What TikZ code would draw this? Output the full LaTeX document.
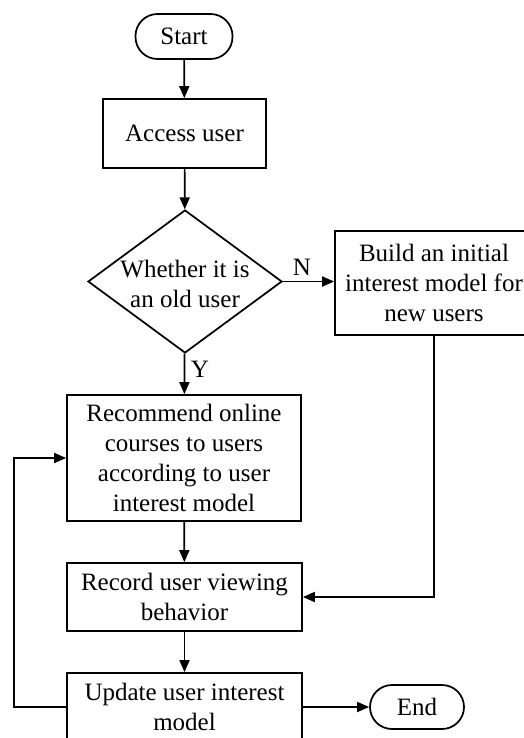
\documentclass[tikz,border=0pt]{standalone}
\usepackage{fontspec}
\setmainfont{Liberation Serif}
\usetikzlibrary{shapes.geometric,arrows.meta}
\begin{document}
\begin{tikzpicture}[x=0.75pt,y=-0.75pt,
  font=\fontsize{18.75}{22.5}\selectfont,
  every node/.style={inner sep=0pt},
  stepbox/.style={draw,line width=1.3pt,align=center,minimum width=#1},
  terminal/.style={draw,line width=1.3pt,rounded corners=16.5pt,minimum height=33pt,minimum width=#1},
  flow/.style={line width=1.3pt,-{Triangle[length=9pt,width=7.5pt]}},
  plain/.style={line width=1.3pt}]
\useasboundingbox (0,0) rectangle (524,738);
\clip (0,0) rectangle (524,738);

% nodes
\node[terminal=72.75pt,minimum height=33.75pt] (start) at (184,36.5) {Start};
\node[stepbox=122.25pt,minimum height=51.75pt] (access) at (184.5,133.5) {Access user};
\node[draw,line width=1.3pt,diamond,minimum width=145.5pt,minimum height=107.25pt] (decide) at (185,281.5) {};
\node[align=center] (decidetext) at (185,284) {Whether it is\\an old user};
\node[stepbox=148.5pt,minimum height=78pt] (build) at (434,283) {Build an initial\\interest model for\\new users};
\node[stepbox=175.5pt,minimum height=94.5pt] (recommend) at (184,458) {Recommend online\\courses to users\\according to user\\interest model};
\node[stepbox=176.25pt,minimum height=51pt] (record) at (184.5,597) {Record user viewing\\behavior};
\node[stepbox=176.25pt,minimum height=51pt] (update) at (184.5,707) {Update user interest\\model};
\node[terminal=70.5pt] (finish) at (417,707) {End};

% branch labels
\node (nlabel) at (302,267) {N};
\node (ylabel) at (200,369) {Y};

% connectors
\draw[flow] (start) -- (access);
\draw[flow] (access) -- (decide);
\draw[flow] (decide.east) -- (build.west |- decide.east);
\draw[flow] (decide) -- (recommend);
\draw[flow] (recommend) -- (record);
\draw[flow] (record) -- (update);
\draw[flow] (update) -- (finish);
\draw[flow] (build.south) |- (record.east);
\coordinate (loopcorner) at (14,707);
\draw[flow] (update.west) -- (loopcorner) |- (recommend.west);
\end{tikzpicture}
\end{document}
